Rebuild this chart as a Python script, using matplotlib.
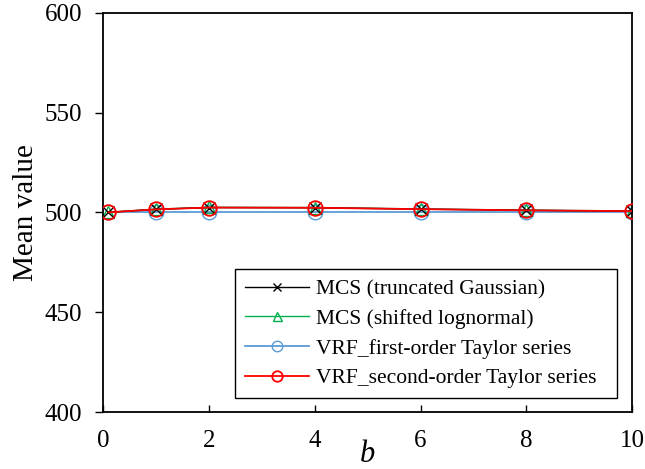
import matplotlib
matplotlib.use("Agg")
import matplotlib.pyplot as plt

# Data
b_values = [0.1, 1, 2, 4, 6, 8, 10]
mcs_gaussian = [500.0, 501.5, 502.4, 502.3, 501.6, 501.0, 500.6]
mcs_lognormal = [500.0, 501.6, 502.5, 502.4, 501.7, 501.1, 500.7]
vrf_first = [500.0, 500.0, 500.0, 500.0, 500.0, 500.0, 500.0]
vrf_second = [500.0, 501.5, 502.4, 502.3, 501.6, 501.0, 500.6]

series_labels = [
    "MCS (truncated Gaussian)",
    "MCS (shifted lognormal)",
    "VRF_first-order Taylor series",
    "VRF_second-order Taylor series",
]

plt.rcParams["font.family"] = ["Liberation Serif", "DejaVu Serif"]

fig = plt.figure(figsize=(6.45, 4.69), dpi=100)
ax = fig.add_axes([0.160, 0.1215, 0.820, 0.8515])

ax.plot(b_values, mcs_gaussian, color="black", lw=1.0, marker="x",
        markersize=8, markeredgewidth=1.0, label=series_labels[0], zorder=3)
ax.plot(b_values, mcs_lognormal, color="#00B050", lw=1.0, marker="^",
        markersize=9, markerfacecolor="none", markeredgewidth=1.0,
        label=series_labels[1], zorder=2)
ax.plot(b_values, vrf_first, color="#5B9BD5", lw=1.3, marker="o",
        markersize=10.5, markerfacecolor="none", markeredgewidth=1.0,
        label=series_labels[2], zorder=1)
ax.plot(b_values, vrf_second, color="#FF0000", lw=1.3, marker="o",
        markersize=10.5, markerfacecolor="none", markeredgewidth=1.3,
        label=series_labels[3], zorder=4)

ax.set_xlim(0, 10)
ax.set_ylim(400, 600)
ax.set_xticks([0, 2, 4, 6, 8, 10])
ax.set_yticks([400, 450, 500, 550, 600])

ax.tick_params(axis="x", direction="in", length=5, width=1.0, pad=13,
               labelsize=18)
ax.tick_params(axis="y", direction="out", length=6, width=1.0, pad=9,
               labelsize=18)
for s in ax.spines.values():
    s.set_linewidth(1.3)

ax.set_xlabel("b", fontsize=22, fontstyle="italic", labelpad=-9)
ax.set_ylabel("Mean value", fontsize=21, labelpad=4)

leg = ax.legend(loc="lower left", bbox_to_anchor=(0.2495, 0.035, 0.722, 0.3),
                mode="expand", fontsize=15.5, frameon=True, fancybox=False,
                edgecolor="black", framealpha=1, handlelength=3.0,
                borderpad=0.45, labelspacing=0.45, handletextpad=0.3,
                borderaxespad=0, markerscale=0.72)
leg.get_frame().set_linewidth(1.0)

fig.savefig("out.png", dpi=100)
